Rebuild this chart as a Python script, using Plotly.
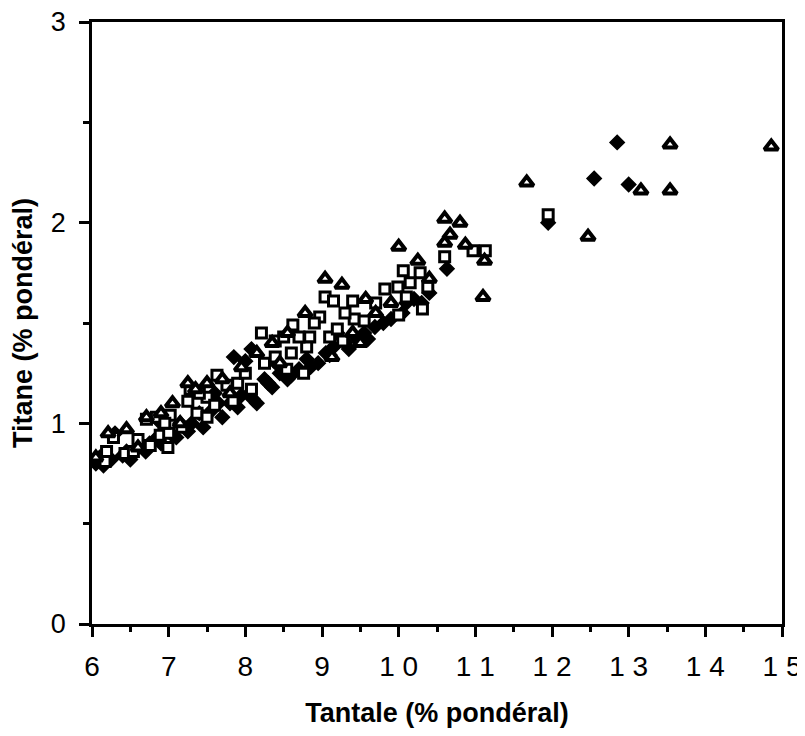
import plotly.graph_objects as go

# Filled diamonds
dia_x = [6.05, 6.15, 6.3, 6.4, 6.5, 6.6, 6.75, 6.85, 6.95, 7.05, 7.15, 7.3, 7.4, 7.55, 7.65, 7.8,
         7.85, 7.95, 8.0, 8.08, 8.15, 8.25, 8.3, 8.45, 8.55, 8.7, 8.8, 8.95, 9.05, 9.15, 9.3, 9.45,
         9.55, 9.69, 9.8, 9.9, 10.05, 10.2, 10.3, 10.63, 11.95, 12.55, 12.85, 13.0,
         6.1, 6.25, 6.45, 6.7, 6.9, 7.1, 7.25, 7.45, 7.7, 7.9, 8.1, 8.35, 8.6, 8.85, 9.1, 9.35,
         9.6, 10.1, 10.4, 9.2, 8.4, 7.6, 6.9]
dia_y = [0.80, 0.79, 0.95, 0.84, 0.82, 0.88, 0.90, 0.93, 0.97, 0.94, 1.00, 1.00, 1.05, 1.06, 1.10, 1.10,
         1.33, 1.14, 1.31, 1.37, 1.10, 1.22, 1.20, 1.25, 1.22, 1.27, 1.32, 1.30, 1.35, 1.38, 1.40, 1.42,
         1.45, 1.48, 1.50, 1.52, 1.55, 1.62, 1.60, 1.77, 2.00, 2.22, 2.40, 2.19,
         0.83, 0.82, 0.86, 0.86, 0.90, 0.93, 0.96, 0.98, 1.03, 1.08, 1.12, 1.18, 1.24, 1.28, 1.34, 1.37,
         1.42, 1.60, 1.65, 1.45, 1.30, 1.15, 1.00]

# Open squares
sq_x = [6.17, 6.19, 6.28, 6.43, 6.54, 6.71, 6.76, 6.84, 6.89, 6.99, 7.02, 7.17, 7.25, 7.28, 7.37, 7.5,
        7.5, 7.6, 7.63, 7.76, 7.84, 8.08, 8.21, 8.39, 8.39, 8.5, 8.62, 8.84, 8.8, 8.54, 8.76, 9.1,
        9.27, 8.97, 9.04, 9.15, 9.4, 9.42, 9.55, 9.82, 9.99, 10.06, 10.28, 10.38, 10.1, 10.31, 10.0,
        10.6, 10.97, 11.13, 11.95, 7.0, 6.6, 7.9, 8.0, 8.6, 9.2, 9.7, 9.3, 10.15, 7.4, 6.95, 8.25,
        8.9, 8.7]
sq_y = [0.81, 0.86, 0.93, 0.85, 0.86, 1.02, 0.89, 1.03, 0.94, 0.88, 1.04, 0.98, 1.11, 1.17, 1.05, 1.13,
        1.03, 1.09, 1.24, 1.19, 1.11, 1.17, 1.45, 1.41, 1.33, 1.43, 1.49, 1.43, 1.38, 1.27, 1.25, 1.43,
        1.41, 1.53, 1.63, 1.61, 1.61, 1.52, 1.51, 1.67, 1.68, 1.76, 1.75, 1.68, 1.63, 1.57, 1.54,
        1.83, 1.86, 1.86, 2.04, 0.95, 0.92, 1.20, 1.25, 1.35, 1.47, 1.60, 1.55, 1.70, 1.15, 1.00, 1.30,
        1.50, 1.43]

# Open triangles
tri_x = [6.05, 6.21, 6.45, 6.71, 6.9, 7.05, 7.25, 7.5, 7.35, 7.7, 7.95, 8.15, 8.35, 8.55, 8.78, 9.04,
         9.26, 9.57, 9.13, 9.4, 9.7, 9.9, 10.0, 10.25, 10.6, 10.8, 10.67, 10.6, 10.87, 11.12, 11.1,
         11.67, 12.47, 13.16, 13.54, 13.54, 14.86, 6.6, 7.15, 7.8, 8.45, 9.5, 10.4]
tri_y = [0.83, 0.95, 0.97, 1.03, 1.05, 1.10, 1.20, 1.20, 1.17, 1.22, 1.28, 1.35, 1.40, 1.45, 1.55, 1.72,
         1.69, 1.62, 1.33, 1.45, 1.55, 1.60, 1.88, 1.81, 2.02, 2.00, 1.94, 1.90, 1.89, 1.81, 1.63,
         2.20, 1.93, 2.16, 2.16, 2.39, 2.38, 0.88, 1.00, 1.15, 1.30, 1.40, 1.72]

x_ticks = [6, 7, 8, 9, 10, 11, 12, 13, 14, 15]
x_labels = ["6", "7", "8", "9", "1 0", "1 1", "1 2", "1 3", "1 4", "1 5"]
y_ticks = [0, 1, 2, 3]

fig = go.Figure()
fig.add_trace(go.Scatter(x=dia_x, y=dia_y, mode="markers",
                         marker=dict(symbol="diamond", size=11, color="black",
                                     line=dict(color="black", width=1.5))))
fig.add_trace(go.Scatter(x=sq_x, y=sq_y, mode="markers",
                         marker=dict(symbol="square", size=10, color="white",
                                     line=dict(color="black", width=3))))
fig.add_trace(go.Scatter(x=tri_x, y=tri_y, mode="markers",
                         marker=dict(symbol="triangle-up", size=12, color="white",
                                     line=dict(color="black", width=4))))

font = "Liberation Sans, Arial, Helvetica, sans-serif"
fig.update_layout(
    width=797, height=720,
    margin=dict(l=84, r=23, t=14, b=104, autoexpand=False),
    paper_bgcolor="white", plot_bgcolor="white",
    showlegend=False,
    font=dict(family=font, color="black", size=27),
)
fig.update_xaxes(
    range=[6, 15], tickmode="array", tickvals=x_ticks, ticktext=x_labels,
    ticks="outside", ticklen=10, tickwidth=2.5, tickcolor="black",
    minor=dict(dtick=0.5, tick0=6, ticks="outside", ticklen=5, tickwidth=2.5, tickcolor="black"),
    showline=True, linewidth=2.5, linecolor="black", mirror=True,
    showgrid=False, zeroline=False, automargin=False, ticklabeloverflow="allow",
    tickfont=dict(size=28), ticklabelstandoff=6,
    title=dict(text="<b>Tantale (% pondéral)</b>", font=dict(size=27), standoff=22),
)
fig.update_yaxes(
    range=[0, 3], tickvals=y_ticks,
    ticks="outside", ticklen=10, tickwidth=2.5, tickcolor="black",
    minor=dict(dtick=0.5, tick0=0, ticks="outside", ticklen=6, tickwidth=2.5, tickcolor="black"),
    showline=True, linewidth=2.5, linecolor="black", mirror=True,
    showgrid=False, zeroline=False, automargin=False, ticklabeloverflow="allow",
    tickfont=dict(size=27), ticklabelstandoff=8,
    title=dict(text="<b>Titane (% pondéral)</b>", font=dict(size=27), standoff=14),
)

fig.write_html("out.html")
